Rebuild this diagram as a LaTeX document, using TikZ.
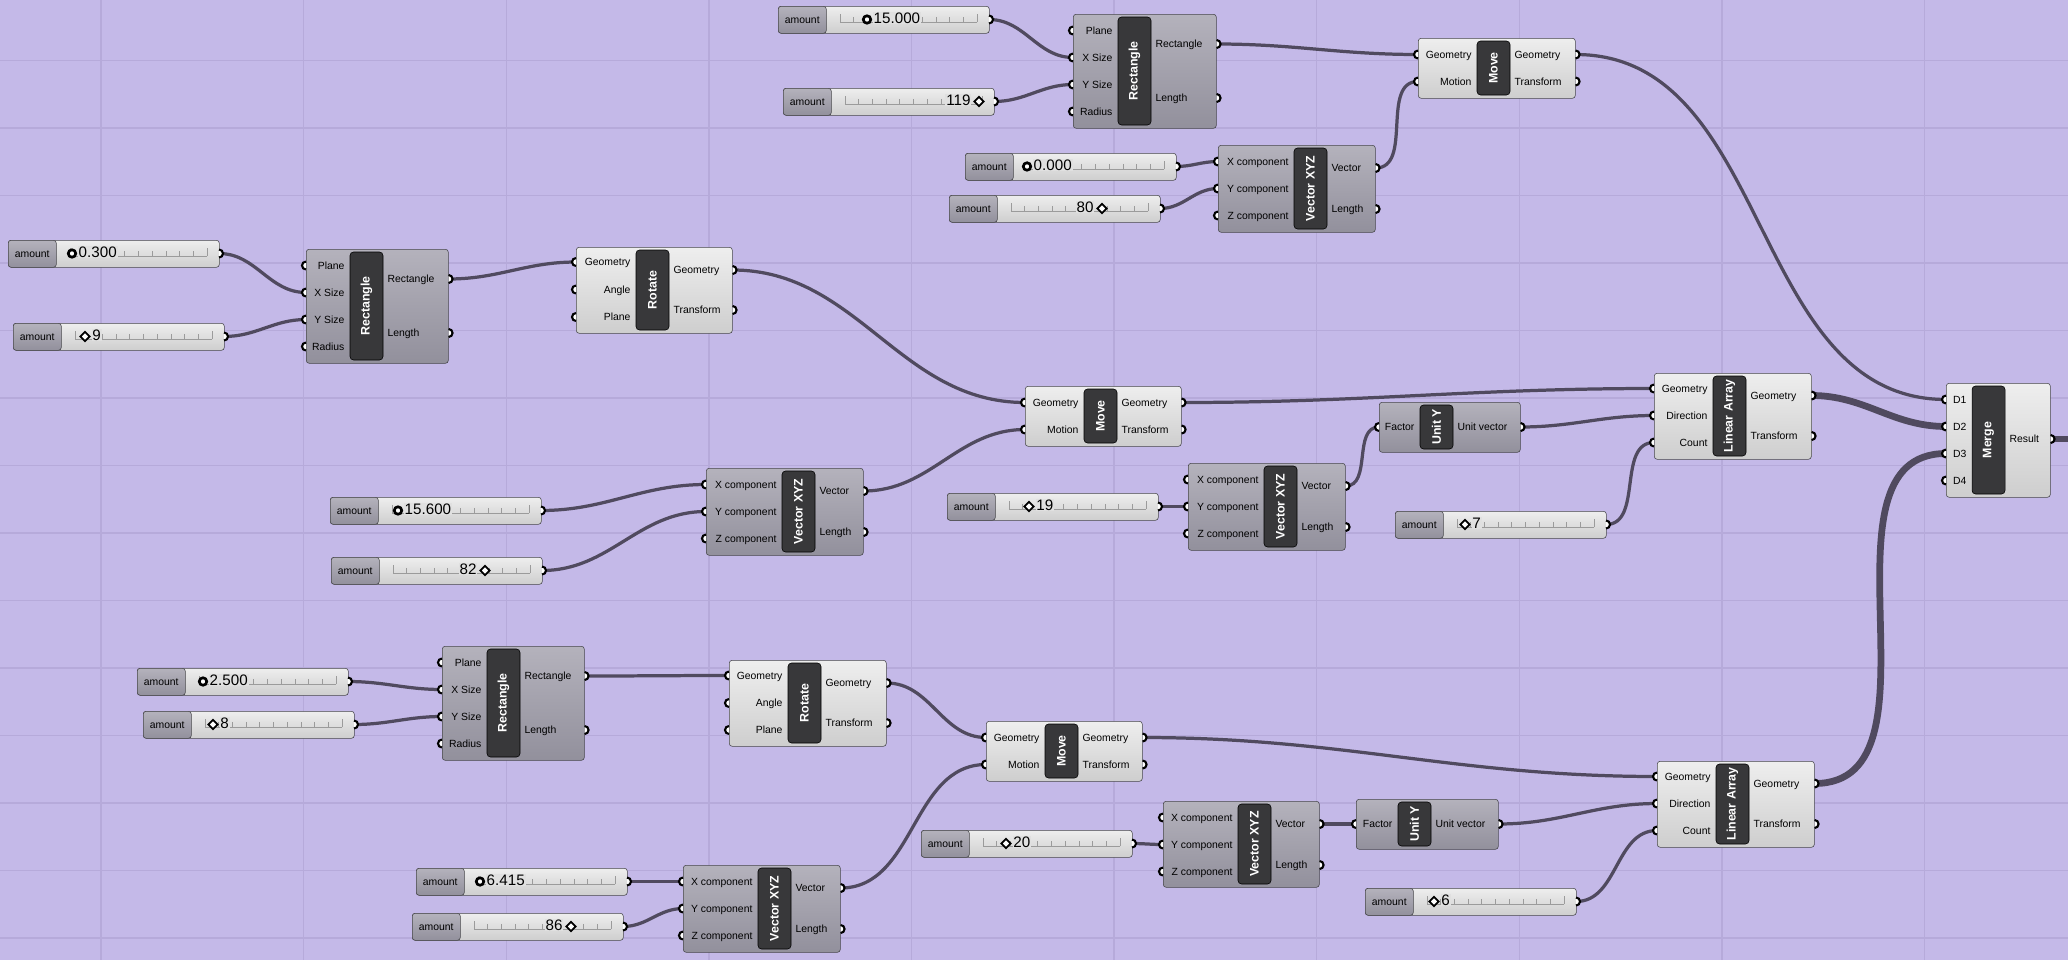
\documentclass[tikz,border=0pt]{standalone}
\usepackage{fontspec}
\setmainfont{Liberation Sans}
\usetikzlibrary{positioning, calc, backgrounds, shapes.geometric}
\definecolor{canvas}{RGB}{196,185,232}
\definecolor{gridcol}{RGB}{182,170,218}
\definecolor{wirecol}{RGB}{80,74,95}
\definecolor{edgecol}{RGB}{70,70,74}
\definecolor{barcol}{RGB}{56,56,58}
\definecolor{darktop}{RGB}{180,178,188}
\definecolor{darkbot}{RGB}{146,144,156}
\definecolor{lighttop}{RGB}{238,238,238}
\definecolor{lightbot}{RGB}{206,206,206}
\definecolor{valcol}{RGB}{224,224,224}
\definecolor{trackcol}{RGB}{155,155,155}
\newcommand{\gpx}{0.025cm}
\tikzset{
    compdark/.style={rectangle, draw=edgecol, rounded corners=2pt, top color=darktop, bottom color=darkbot, inner sep=0pt, anchor=north west},
    complight/.style={compdark, top color=lighttop, bottom color=lightbot},
    ghbar/.style={rectangle, draw=black, fill=barcol, rounded corners=2.5pt, minimum width=33*\gpx, inner sep=0pt},
    bartext/.style={rotate=90, text=white, font=\fontsize{8.8}{10}\selectfont\bfseries, inner sep=0pt},
    portlab/.style={font=\fontsize{7.4}{8}\selectfont, inner sep=0pt},
    ghport/.style={fill=white, draw=black, line width=1.5pt},
    slidebox/.style={rectangle, draw=edgecol, rounded corners=2pt, top color=lighttop, bottom color=lightbot, minimum width=211*\gpx, minimum height=27*\gpx, inner sep=0pt, anchor=north west},
    slidelab/.style={slidebox, top color=darktop, bottom color=darkbot, minimum width=48*\gpx, font=\fontsize{7.4}{8}\selectfont},
    slideval/.style={fill=valcol, inner sep=0.6pt, font=\fontsize{10.8}{12}\selectfont},
    ghtrack/.style={draw=trackcol, line width=0.5pt},
    fmark/.style={circle, draw=black, fill=white, line width=1.9pt, minimum size=7.5*\gpx, inner sep=0pt},
    imark/.style={diamond, draw=black, fill=white, line width=1.2pt, minimum size=10*\gpx, inner sep=0pt},
    ghwire/.style={draw=wirecol, line width=2.3pt, out=0, in=180},
    ghbigwire/.style={ghwire, line width=4.8pt},
    gridline/.style={draw=gridcol, line width=1pt}
}
% component: name, x, y, width, height, bar offset, look, title
\newcommand{\ghcomp}[8]{%
    \node[#7, minimum width=#4*\gpx, minimum height=#5*\gpx] (#1) at (#2,#3) {};
    \node[ghbar, minimum height={(#5-6)*\gpx}] (#1-bar) at ({#2+#6+16.5},{#3+#5/2}) {};
    \node[bartext] (#1-t) at (#1-bar) {#8};
}
% ports: name, inputs, outputs
\newcommand{\ghports}[3]{%
    \foreach \dy/\lab [count=\k] in {#2} {
        \coordinate (#1-i\k) at ($(#1.north west)+(0,\dy)$);
        \path[ghport] ($(#1-i\k)+(0,-4)$) arc[start angle=90, end angle=270, radius=4*\gpx];
        \node[portlab, anchor=mid east] (#1-il\k) at ($(#1-bar.west |- #1-i\k)+(-5,0)$) {\lab};
    }
    \foreach \dy/\lab [count=\k] in {#3} {
        \coordinate (#1-o\k) at ($(#1.north east)+(0,\dy)$);
        \path[ghport] ($(#1-o\k)+(0,-4)$) arc[start angle=90, end angle=-90, radius=4*\gpx];
        \node[portlab, anchor=mid west] (#1-ol\k) at ($(#1-bar.east |- #1-o\k)+(4,0)$) {\lab};
    }
}
% slider: name, x, y, marker offset, value, c/d, r/l
\newcommand{\ghslider}[7]{%
    \node[slidebox] (#1) at (#2,#3) {};
    \node[slidelab] (#1-l) at (#2,#3) {amount};
    \draw[ghtrack] ({#2+62},{#3+16}) -- ({#2+199},{#3+16});
    \draw[ghtrack] ({#2+62},{#3+16}) -- ++(0,-8) ({#2+199},{#3+16}) -- ++(0,-8);
    \foreach \t in {1,...,9} \draw[ghtrack] ({#2+62+\t*13.7},{#3+16}) -- ++(0,-5);
    \if c#6
        \node[fmark] (#1-m) at ({#2+#4},{#3+13.5}) {};
    \else
        \node[imark] (#1-m) at ({#2+#4},{#3+13.5}) {};
    \fi
    \if r#7
        \node[slideval, anchor=mid west] (#1-v) at ($(#1-m.east)+(0.5,0)$) {#5};
    \else
        \node[slideval, anchor=mid east] (#1-v) at ($(#1-m.west)+(-1.5,0)$) {#5};
    \fi
    \coordinate (#1-o) at ({#2+211},{#3+13.5});
    \path[ghport] ($(#1-o)+(0,-4)$) arc[start angle=90, end angle=-90, radius=4*\gpx];
}

\begin{document}
\begin{tikzpicture}[x=0.025cm, y=-0.025cm]
    \useasboundingbox (0,0) rectangle (2068,960);
    \begin{scope}[on background layer]
        \fill[canvas] (0,0) rectangle (2068,960);
        \foreach \gx in {0,...,9} \draw[gridline] ({101+\gx*202.6},0) -- ++(0,960);
        \foreach \gy in {0,...,13} \draw[gridline] (0,{60.5+\gy*67.5}) -- ++(2068,0);
    \end{scope}

    % Sliders
    \ghslider{sRAx}{8}{240}{64}{0.300}{c}{r}
    \ghslider{sRAy}{13}{323}{72}{9}{d}{r}
    \ghslider{sRBx}{778}{6}{89}{15.000}{c}{r}
    \ghslider{sRBy}{783}{88}{196}{119}{d}{l}
    \ghslider{sVAx}{965}{153}{62}{0.000}{c}{r}
    \ghslider{sVAy}{949}{195}{153}{80}{d}{l}
    \ghslider{sVBx}{330}{497}{68}{15.600}{c}{r}
    \ghslider{sVBy}{331}{557}{154}{82}{d}{l}
    \ghslider{sVCy}{947}{493}{82}{19}{d}{r}
    \ghslider{sCntA}{1395}{511}{70}{7}{d}{r}
    \ghslider{sRCx}{137}{668}{66}{2.500}{c}{r}
    \ghslider{sRCy}{143}{711}{70}{8}{d}{r}
    \ghslider{sVDx}{416}{868}{64}{6.415}{c}{r}
    \ghslider{sVDy}{412}{913}{159}{86}{d}{l}
    \ghslider{sVEy}{921}{830}{85}{20}{d}{r}
    \ghslider{sCntB}{1365}{888}{69}{6}{d}{r}

    % Components
    \ghcomp{rectA}{306}{249}{142}{114}{44}{compdark}{Rectangle}
    \ghports{rectA}{16.5/Plane, 43.5/X Size, 70.5/Y Size, 97.5/Radius}{30/Rectangle, 84/Length}
    \ghcomp{rectB}{1073}{14}{143}{114}{45}{compdark}{Rectangle}
    \ghports{rectB}{16.5/Plane, 43.5/X Size, 70.5/Y Size, 97.5/Radius}{30/Rectangle, 84/Length}
    \ghcomp{rectC}{442}{646}{142}{114}{45}{compdark}{Rectangle}
    \ghports{rectC}{16.5/Plane, 43.5/X Size, 70.5/Y Size, 97.5/Radius}{30/Rectangle, 84/Length}
    \ghcomp{rotA}{576}{247}{156}{86}{60}{complight}{Rotate}
    \ghports{rotA}{15/Geometry, 42.5/Angle, 70/Plane}{23/Geometry, 63/Transform}
    \ghcomp{rotB}{729}{660}{157}{86}{59}{complight}{Rotate}
    \ghports{rotB}{15.5/Geometry, 43/Angle, 70/Plane}{23/Geometry, 63/Transform}
    \ghcomp{moveA}{1418}{38}{157}{60}{59}{complight}{Move}
    \ghports{moveA}{16.5/Geometry, 43.5/Motion}{16.5/Geometry, 43.5/Transform}
    \ghcomp{moveB}{1025}{386}{156}{60}{59}{complight}{Move}
    \ghports{moveB}{16.5/Geometry, 43.5/Motion}{16.5/Geometry, 43.5/Transform}
    \ghcomp{moveC}{986}{721}{156}{60}{59}{complight}{Move}
    \ghports{moveC}{16.5/Geometry, 43.5/Motion}{16.5/Geometry, 43.5/Transform}
    \ghcomp{vecA}{1218}{145}{157}{87}{76}{compdark}{Vector XYZ}
    \ghports{vecA}{16.5/X component, 43.5/Y component, 70.5/Z component}{23/Vector, 64/Length}
    \ghcomp{vecB}{706}{468}{157}{87}{76}{compdark}{Vector XYZ}
    \ghports{vecB}{16.5/X component, 43.5/Y component, 70.5/Z component}{23/Vector, 64/Length}
    \ghcomp{vecC}{1188}{463}{157}{87}{76}{compdark}{Vector XYZ}
    \ghports{vecC}{16.5/X component, 43.5/Y component, 70.5/Z component}{23/Vector, 64/Length}
    \ghcomp{vecD}{683}{865}{157}{87}{75}{compdark}{Vector XYZ}
    \ghports{vecD}{16.5/X component, 43.5/Y component, 70.5/Z component}{23/Vector, 64/Length}
    \ghcomp{vecE}{1163}{801}{156}{86}{75}{compdark}{Vector XYZ}
    \ghports{vecE}{16.5/X component, 43.5/Y component, 70.5/Z component}{23/Vector, 64/Length}
    \ghcomp{unitA}{1379}{402}{141}{50}{41}{compdark}{Unit Y}
    \ghports{unitA}{25/Factor}{25/Unit vector}
    \ghcomp{unitB}{1356}{799}{142}{50}{42}{compdark}{Unit Y}
    \ghports{unitB}{25/Factor}{25/Unit vector}
    \ghcomp{arrA}{1654}{373}{157}{86}{59}{complight}{Linear Array}
    \ghports{arrA}{15.5/Geometry, 42.5/Direction, 69.5/Count}{22.5/Geometry, 63/Transform}
    \ghcomp{arrB}{1657}{761}{157}{86}{59}{complight}{Linear Array}
    \ghports{arrB}{15.5/Geometry, 42.5/Direction, 69.5/Count}{22.5/Geometry, 63/Transform}
    \ghcomp{merge}{1946}{383}{104}{114}{26}{complight}{Merge}
    \ghports{merge}{16.5/D1, 43.5/D2, 70.5/D3, 97.5/D4}{56/Result}
    \coordinate (mergeout) at (2068,439);

    % Wires
    \begin{scope}[on background layer]
        \draw[ghwire] (sRBx-o) to (rectB-i2);
        \draw[ghwire] (sRBy-o) to (rectB-i3);
        \draw[ghwire] (sVAx-o) to (vecA-i1);
        \draw[ghwire] (sVAy-o) to (vecA-i2);
        \draw[ghwire] (rectB-o1) to (moveA-i1);
        \draw[ghwire] (vecA-o1) to (moveA-i2);
        \draw[ghwire] (moveA-o1) to (merge-i1);
        \draw[ghwire] (sRAx-o) to (rectA-i2);
        \draw[ghwire] (sRAy-o) to (rectA-i3);
        \draw[ghwire] (rectA-o1) to (rotA-i1);
        \draw[ghwire] (rotA-o1) to (moveB-i1);
        \draw[ghwire] (sVBx-o) to (vecB-i1);
        \draw[ghwire] (sVBy-o) to (vecB-i2);
        \draw[ghwire] (vecB-o1) to (moveB-i2);
        \draw[ghwire] (moveB-o1) to (arrA-i1);
        \draw[ghwire] (sVCy-o) to (vecC-i2);
        \draw[ghwire] (vecC-o1) to (unitA-i1);
        \draw[ghwire] (unitA-o1) to (arrA-i2);
        \draw[ghwire] (sCntA-o) to (arrA-i3);
        \draw[ghbigwire] (arrA-o1) to (merge-i2);
        \draw[ghwire] (sRCx-o) to (rectC-i2);
        \draw[ghwire] (sRCy-o) to (rectC-i3);
        \draw[ghwire] (rectC-o1) to (rotB-i1);
        \draw[ghwire] (rotB-o1) to (moveC-i1);
        \draw[ghwire] (sVDx-o) to (vecD-i1);
        \draw[ghwire] (sVDy-o) to (vecD-i2);
        \draw[ghwire] (vecD-o1) to (moveC-i2);
        \draw[ghwire] (moveC-o1) to (arrB-i1);
        \draw[ghwire] (sVEy-o) to (vecE-i2);
        \draw[ghwire] (vecE-o1) to (unitB-i1);
        \draw[ghwire] (unitB-o1) to (arrB-i2);
        \draw[ghwire] (sCntB-o) to (arrB-i3);
        \draw[ghbigwire] (arrB-o1) to (merge-i3);
        \draw[ghbigwire] (merge-o1) -- (mergeout);
    \end{scope}
\end{tikzpicture}
\end{document}
